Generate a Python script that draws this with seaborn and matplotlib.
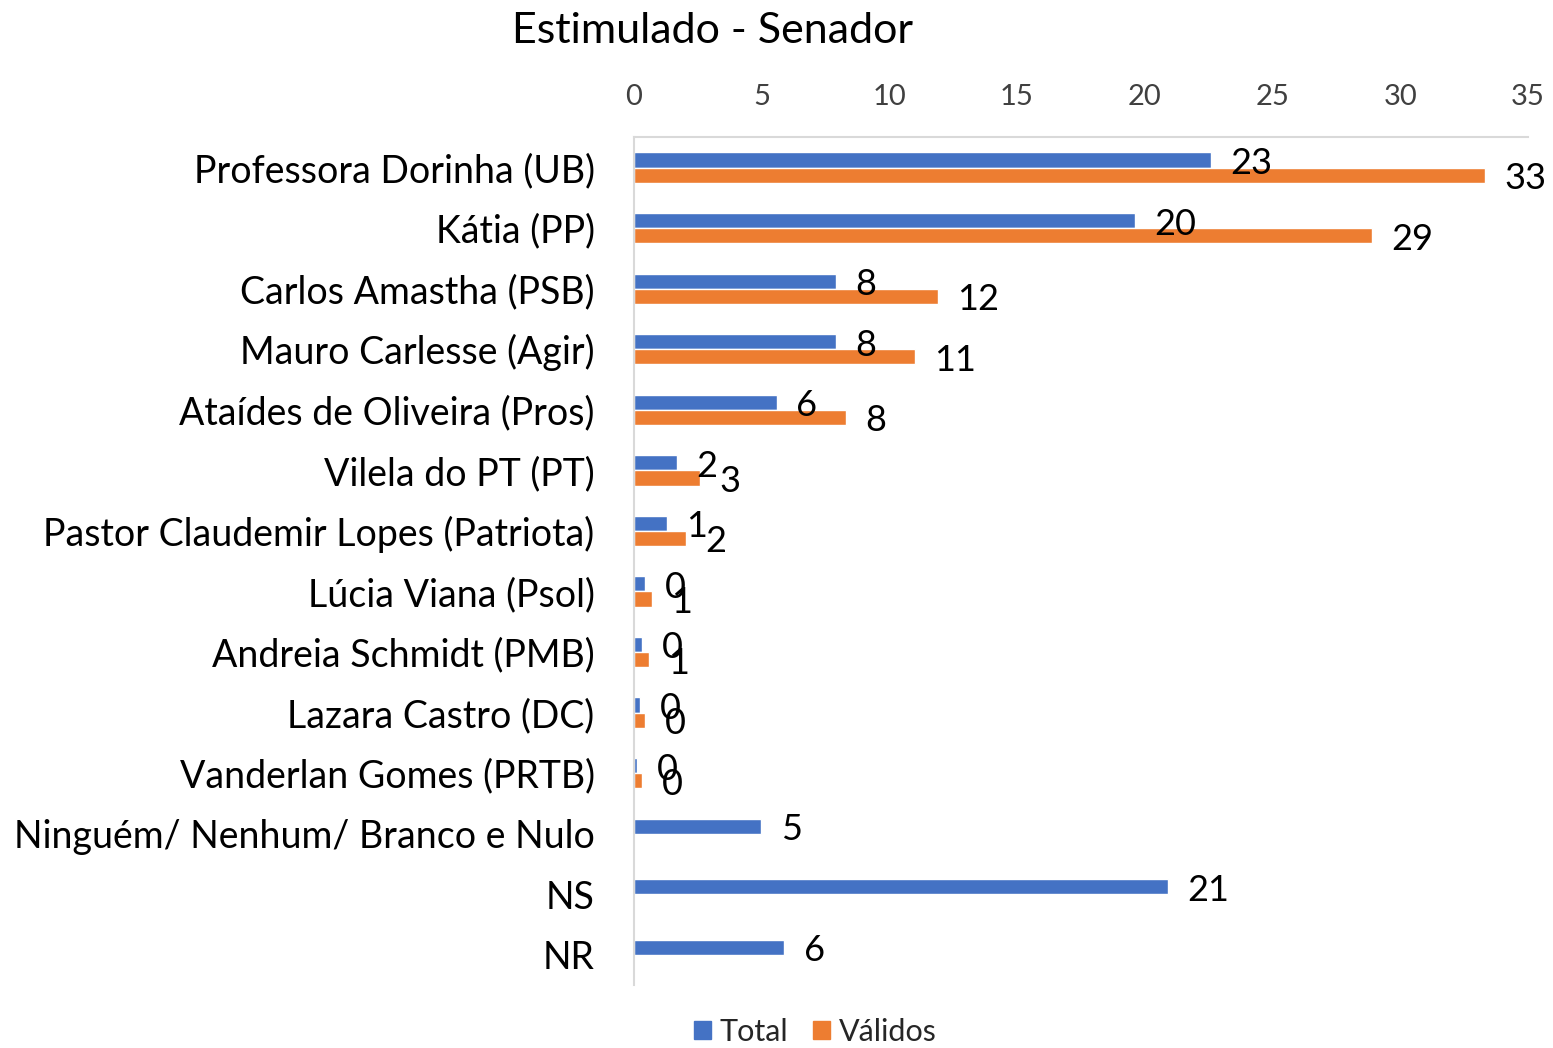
import matplotlib
matplotlib.use("Agg")
import matplotlib.pyplot as plt
import seaborn as sns
import pandas as pd
import numpy as np

# values
candidates = [
    "Professora Dorinha (UB)",
    "Kátia (PP)",
    "Carlos Amastha (PSB)",
    "Mauro Carlesse (Agir)",
    "Ataídes de Oliveira (Pros)",
    "Vilela do PT (PT)",
    "Pastor Claudemir Lopes (Patriota)",
    "Lúcia Viana (Psol)",
    "Andreia Schmidt (PMB)",
    "Lazara Castro (DC)",
    "Vanderlan Gomes (PRTB)",
    "Ninguém/ Nenhum/ Branco e Nulo",
    "NS",
    "NR",
]
total = [22.6, 19.6, 7.9, 7.9, 5.6, 1.7, 1.3, 0.45, 0.33, 0.26, 0.13, 5.0, 20.9, 5.9]
validos = [33.3, 28.9, 11.9, 11.0, 8.3, 2.6, 2.05, 0.72, 0.59, 0.45, 0.33, np.nan, np.nan, np.nan]
series = ["Total", "Válidos"]
colors = ["#4472C4", "#ED7D31"]
x_ticks = [0, 5, 10, 15, 20, 25, 30, 35]

df = pd.DataFrame({"candidato": candidates, "Total": total, "Válidos": validos})
df_long = df.melt(id_vars="candidato", value_vars=series, var_name="serie", value_name="pct")
df_long = df_long.dropna()

sns.set_style("white")
plt.rcParams["font.family"] = ["Lato", "DejaVu Sans"]

fig = plt.figure(figsize=(15.53, 10.48), dpi=100)
ax = fig.add_axes([0.408, 0.060, 0.576, 0.809])

sns.barplot(
    data=df_long, y="candidato", x="pct", hue="serie",
    order=candidates, hue_order=series, palette=colors, saturation=1,
    orient="h", width=0.5, ax=ax, legend=False,
)

# data labels, nudged a little lower like the original
for cont in ax.containers:
    labels = ax.bar_label(cont, fmt="{:.0f}", padding=14, fontsize=26, color="#000000")
    for t in labels:
        dx, dy = t.xyann
        t.xyann = (dx, dy - 2.5)

ax.set_xlim(0, 35)
ax.set_ylim(len(candidates) - 0.5, -0.5)
ax.set_xticks(x_ticks)
ax.xaxis.tick_top()
ax.tick_params(axis="x", length=0, pad=20, labelsize=21, labelcolor="#404040")
ax.tick_params(axis="y", length=0, pad=28, labelsize=27, labelcolor="#000000")
ax.set_xlabel("")
ax.set_ylabel("")
for s in ["right", "bottom"]:
    ax.spines[s].set_visible(False)
for s in ["top", "left"]:
    ax.spines[s].set_color("#D9D9D9")
    ax.spines[s].set_linewidth(1.5)

fig.text(0.459, 0.970, "Estimulado - Senador", ha="center", va="center", fontsize=31, color="#000000")

handles = [plt.Rectangle((0, 0), 1, 1, color=c) for c in colors]
fig.legend(handles, series, loc="lower center", bbox_to_anchor=(0.525, -0.024), ncol=2,
           frameon=False, fontsize=22, handlelength=0.55, handleheight=0.55,
           handletextpad=0.3, columnspacing=0.8)

fig.savefig("out.png", dpi=100)
